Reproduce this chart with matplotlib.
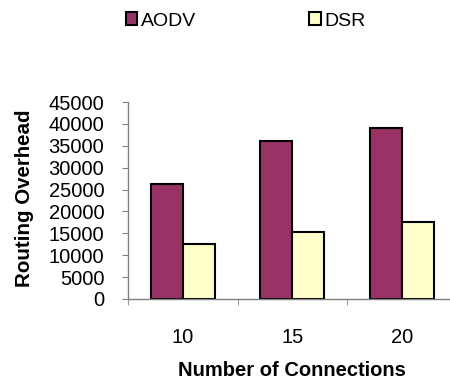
import numpy as np
import matplotlib
matplotlib.use("Agg")
import matplotlib.pyplot as plt

plt.rcParams['font.family'] = ['Liberation Sans', 'DejaVu Sans']

connections = ['10', '15', '20']
aodv = [26200, 36100, 39000]
dsr = [12600, 15400, 17600]

fig = plt.figure(figsize=(4.5, 3.81), dpi=100)
# axes spans x 128..456 px, y 102..299 px
ax = fig.add_axes([128 / 450, (381 - 299) / 381, 328.5 / 450, 197 / 381])

x = np.arange(len(connections))
w = 0.29
ax.bar(x - w / 2, aodv, w, color='#993366', edgecolor='black', linewidth=1.5, label='AODV')
ax.bar(x + w / 2, dsr, w, color='#FFFFCC', edgecolor='black', linewidth=1.5, label='DSR')

ax.set_xlim(-0.5, 2.5)
ax.set_ylim(0, 45000)
ax.set_yticks(np.arange(0, 45001, 5000))
ax.set_xticks(x)
ax.set_xticklabels(connections, fontsize=14.5)
ax.set_xticks([-0.5, 0.5, 1.5, 2.5], minor=True)
ax.tick_params(axis='x', which='major', length=0, pad=21)
ax.tick_params(axis='x', which='minor', length=4, color='#808080', direction='out')
ax.tick_params(axis='y', labelsize=14.5, length=4, color='#808080', pad=13)

for s in ['top', 'right']:
    ax.spines[s].set_visible(False)
for s in ['left', 'bottom']:
    ax.spines[s].set_color('#808080')
    ax.spines[s].set_linewidth(1)

ax.set_ylabel('Routing Overhead', fontsize=14.8, fontweight='bold')
ax.yaxis.set_label_coords(-0.287, 0.51)
ax.set_xlabel('Number of Connections', fontsize=14.5, fontweight='bold')
ax.xaxis.set_label_coords(0.5, -0.315)

fig.legend(loc='center left', bbox_to_anchor=(116 / 450, 1 - 21 / 381), ncol=2, frameon=False,
           fontsize=14, handlelength=0.6, handleheight=0.6, handletextpad=0.2,
           columnspacing=5.8, borderpad=0)

fig.savefig('out.png', dpi=100)
